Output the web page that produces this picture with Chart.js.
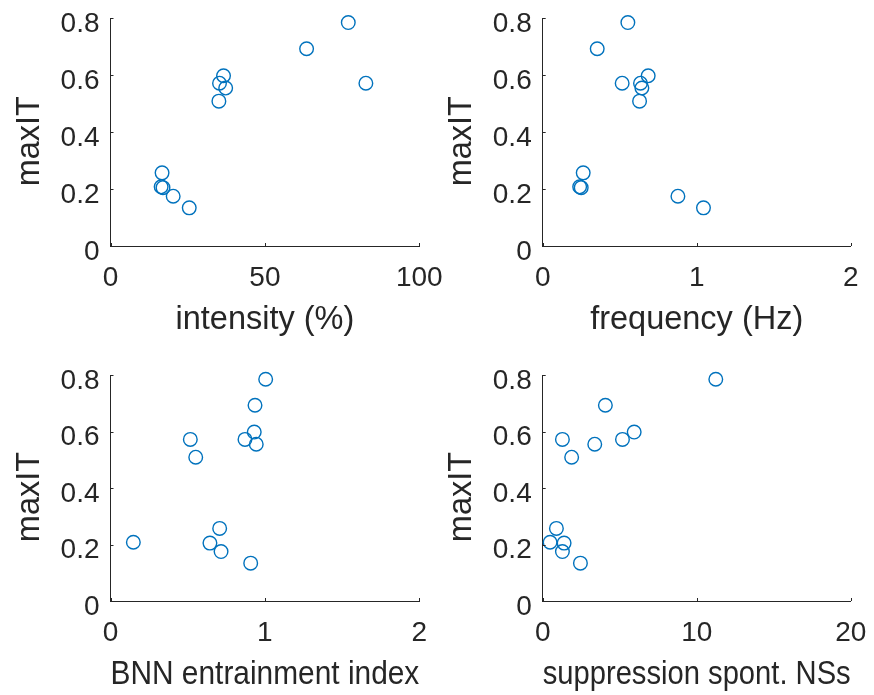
<!DOCTYPE html>
<html>
<head>
<meta charset="utf-8">
<script src="https://cdn.jsdelivr.net/npm/chart.js@4.4.1/dist/chart.umd.min.js"></script>
<style>
    html, body { margin: 0; padding: 0; background: #fff; }
    #wrap { position: relative; width: 874px; height: 695px; }
    #wrap canvas { position: absolute; left: 0; top: 0; }
</style>
</head>
<body>
<div id="wrap">
    <canvas id="c1" width="874" height="695"></canvas>
    <canvas id="c2" width="874" height="695"></canvas>
    <canvas id="c3" width="874" height="695"></canvas>
    <canvas id="c4" width="874" height="695"></canvas>
</div>
<script>
// values, one entry per recording
const maxIT = [0.785, 0.693, 0.598, 0.572, 0.572, 0.555, 0.509, 0.257, 0.208, 0.205, 0.175, 0.134];
const intensity = [77.0, 63.5, 36.6, 82.7, 35.3, 37.3, 35.1, 16.7, 16.4, 17.0, 20.3, 25.5];
const frequency = [0.553, 0.354, 0.685, 0.516, 0.635, 0.644, 0.629, 0.263, 0.24, 0.25, 0.878, 1.044];
const entrainment = [1.005, 0.936, 0.931, 0.517, 0.871, 0.944, 0.552, 0.707, 0.148, 0.644, 0.716, 0.908];
const suppression = [11.24, 4.07, 5.94, 1.28, 5.18, 3.38, 1.88, 0.89, 0.48, 1.39, 1.28, 2.45];

const yTicks = [0, 0.2, 0.4, 0.6, 0.8];
const intensityTicks = [0, 50, 100];
const frequencyTicks = [0, 1, 2];
const entrainmentTicks = [0, 1, 2];
const suppressionTicks = [0, 10, 20];

const yLabel = 'maxIT  ';
const xLabels = ['intensity (%)', 'frequency (Hz)', 'BNN entrainment index', 'suppression spont. NSs'];

const INK = '#262626';
const BLUE = '#0072BD';
const FONT = "'Liberation Sans', Arial, sans-serif";

// short inward tick marks, like matlab's default axes
const inwardTicks = {
    id: 'inwardTicks',
    afterDraw(chart) {
        const ctx = chart.ctx;
        const xs = chart.scales.x;
        const ys = chart.scales.y;
        const a = chart.chartArea;
        ctx.save();
        ctx.strokeStyle = INK;
        ctx.lineWidth = 1;
        ctx.beginPath();
        xs.ticks.forEach(t => {
            const px = Math.round(xs.getPixelForValue(t.value)) + 0.5;
            ctx.moveTo(px, a.bottom);
            ctx.lineTo(px, a.bottom - 3);
        });
        ys.ticks.forEach(t => {
            const py = Math.round(ys.getPixelForValue(t.value)) + 0.5;
            ctx.moveTo(a.left, py);
            ctx.lineTo(a.left + 3, py);
        });
        ctx.stroke();
        ctx.restore();
    }
};

function makeScatter(id, xs, xTicks, xTitle, box) {
    const ctx = document.getElementById(id).getContext('2d');
    const pts = xs.map((v, i) => ({ x: v, y: maxIT[i] }));
    return new Chart(ctx, {
        type: 'scatter',
        data: {
            datasets: [{
                data: pts,
                pointStyle: 'circle',
                pointRadius: 6.8,
                pointHoverRadius: 6.8,
                borderWidth: 1.4,
                borderColor: BLUE,
                backgroundColor: 'rgba(0,0,0,0)',
                clip: false
            }]
        },
        options: {
            responsive: false,
            animation: false,
            devicePixelRatio: 1,
            layout: {
                padding: {
                    left: box.left - 110,
                    top: box.top,
                    right: 874 - box.right,
                    bottom: 695 - box.bottom - 94
                }
            },
            plugins: {
                legend: { display: false },
                tooltip: { enabled: false }
            },
            scales: {
                x: {
                    type: 'linear',
                    min: xTicks[0],
                    max: xTicks[xTicks.length - 1],
                    afterBuildTicks: s => { s.ticks = xTicks.map(v => ({ value: v })); },
                    afterFit: s => {
                        s.height = 94;
                        s.paddingLeft = 0;
                        s.paddingRight = 0;
                    },
                    grid: { display: false, drawTicks: false },
                    border: { display: true, color: INK, width: 1 },
                    ticks: {
                        color: INK,
                        padding: 15,
                        maxRotation: 0,
                        font: { family: FONT, size: 28 }
                    },
                    title: {
                        display: true,
                        text: xTitle,
                        color: INK,
                        padding: { top: 0, bottom: 0 },
                        font: { family: FONT, size: 32.5 }
                    }
                },
                y: {
                    type: 'linear',
                    min: 0,
                    max: 0.8,
                    afterBuildTicks: s => { s.ticks = yTicks.map(v => ({ value: v })); },
                    afterFit: s => {
                        s.width = 110;
                        s.paddingTop = 0;
                        s.paddingBottom = 0;
                    },
                    grid: { display: false, drawTicks: false },
                    border: { display: true, color: INK, width: 1 },
                    ticks: {
                        color: INK,
                        padding: 11,
                        labelOffset: 6,
                        font: { family: FONT, size: 28 }
                    },
                    title: {
                        display: true,
                        text: yLabel,
                        color: INK,
                        padding: { top: 10, bottom: 0 },
                        font: { family: FONT, size: 32.5 }
                    }
                }
            }
        },
        plugins: [inwardTicks]
    });
}

function drawAll() {
    makeScatter('c1', intensity, intensityTicks, xLabels[0], { left: 110.5, right: 419.3, top: 18.3, bottom: 246 });
    makeScatter('c2', frequency, frequencyTicks, xLabels[1], { left: 542.7, right: 850.7, top: 18.3, bottom: 246 });
    makeScatter('c3', entrainment, entrainmentTicks, xLabels[2], { left: 110.5, right: 419.3, top: 375, bottom: 601 });
    makeScatter('c4', suppression, suppressionTicks, xLabels[3], { left: 542.7, right: 850.7, top: 375, bottom: 601 });
}

document.fonts.load("28px 'Liberation Sans'").then(drawAll, drawAll);
</script>
</body>
</html>
